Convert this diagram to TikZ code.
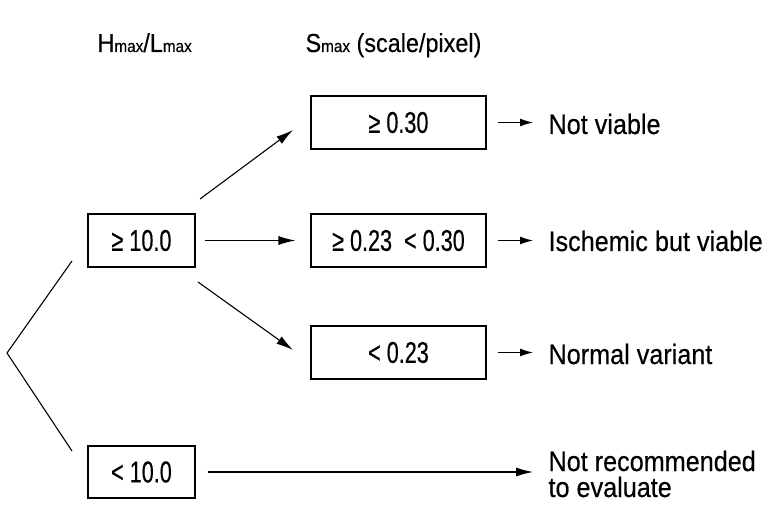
\documentclass[tikz,border=0pt]{standalone}
\usepackage{fontspec}
\setmainfont{Liberation Sans}[FakeStretch=0.9,FakeBold=0.4]
\newfontfamily\boxfont{Liberation Sans}[FakeStretch=0.72,FakeBold=0.4]
\usetikzlibrary{arrows.meta}
\begin{document}
\begin{tikzpicture}[x=1pt,y=-1pt,
  line width=1.1pt,
  valbox/.style={draw, line width=1.1pt, inner sep=0pt, font=\boxfont\fontsize{30}{32}\selectfont},
  lbl/.style={inner sep=0pt, anchor=base west, font=\fontsize{28}{26}\selectfont},
  hdr/.style={inner sep=0pt, anchor=base west, font=\fontsize{26}{28}\selectfont},
  bigarr/.style={-{Latex[length=17pt,width=9pt]}},
  smallarr/.style={-{Latex[length=13pt,width=8pt]}}]
\useasboundingbox (0,0) rectangle (780,532);
% headers
\node[hdr] (h1) at (97,52) {H{\fontsize{17}{18}\selectfont max}/L{\fontsize{17}{18}\selectfont max}};
\node[hdr] (h2) at (305,52) {S{\fontsize{17}{18}\selectfont max} (scale/pixel)};
% left boxes
\node[valbox, minimum width=107pt, minimum height=53pt] (ge10) at (141.5,240.5) {≥ 10.0};
\node[valbox, minimum width=107pt, minimum height=52pt] (lt10) at (141.5,472) {< 10.0};
% middle boxes
\node[valbox, minimum width=175pt, minimum height=53pt] (s1) at (398.5,122.5) {≥ 0.30};
\node[valbox, minimum width=175pt, minimum height=53pt] (s2) at (398.5,240.5) {≥ 0.23 \ < 0.30};
\node[valbox, minimum width=175pt, minimum height=53pt] (s3) at (398.5,352.5) {< 0.23};
% outcome labels
\node[lbl] (o1) at (548,134) {Not viable};
\node[lbl] (o2) at (548,251) {Ischemic but viable};
\node[lbl] (o3) at (548,364) {Normal variant};
\node[lbl, align=left] (o4) at (548,497) {Not recommended\\to evaluate};
% bracket
\coordinate (bt) at (72,261);
\coordinate (bm) at (7,353);
\coordinate (bb) at (72,451);
\draw (bt) -- (bm) -- (bb);
% diagonal arrows
\coordinate (d1s) at (200,199);
\coordinate (d1e) at (293,130);
\coordinate (d3s) at (198,282);
\coordinate (d3e) at (293,350);
\draw[bigarr] (d1s) -- (d1e);
\draw[bigarr] (d3s) -- (d3e);
\draw[bigarr, shorten <=9pt, shorten >=15pt] (ge10.east) -- (s2.west);
% small arrows
\draw[smallarr, shorten <=11pt, shorten >=15pt] (s1.east) -- (s1.east -| o1.west);
\draw[smallarr, shorten <=11pt, shorten >=15pt] (s2.east) -- (s2.east -| o2.west);
\draw[smallarr, shorten <=11pt, shorten >=15pt] (s3.east) -- (s3.east -| o3.west);
\coordinate (o4a) at (548,472);
\draw[bigarr, shorten <=12pt, shorten >=15pt] (lt10.east) -- (o4a);
\end{tikzpicture}
\end{document}
